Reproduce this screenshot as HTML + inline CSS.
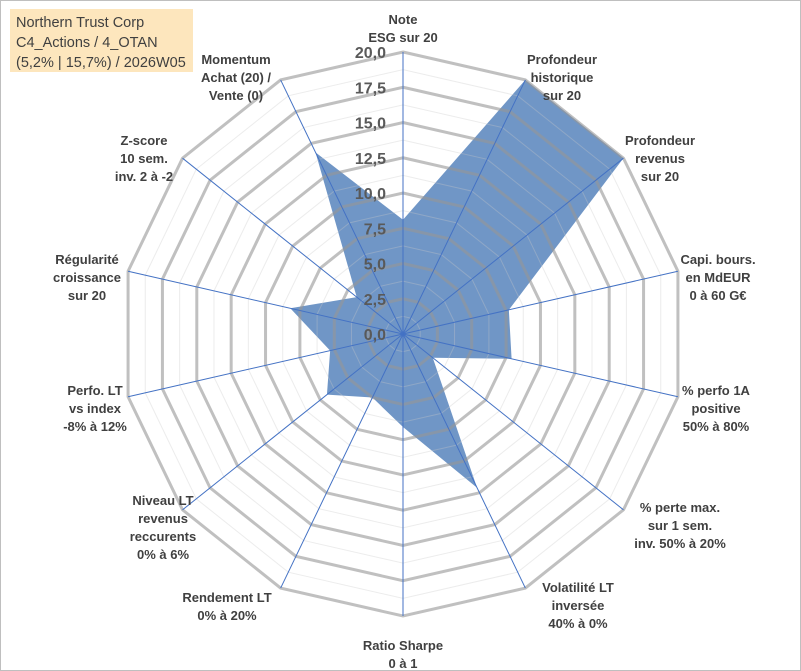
<!DOCTYPE html>
<html><head><meta charset="utf-8"><style>
body{margin:0;background:#fff;}
#wrap{position:relative;width:801px;height:671px;overflow:hidden;font-family:"Liberation Sans",sans-serif;}
svg{position:absolute;left:0;top:0;}
</style></head><body>
<div id="wrap">
<svg id="chart" width="801" height="671"></svg>
</div>
<script>
const categories=[["Note","ESG sur 20"],["Profondeur","historique","sur 20"],["Profondeur","revenus","sur 20"],["Capi. bours.","en MdEUR","0 à 60 G€"],["% perfo 1A","positive","50% à 80%"],["% perte max.","sur 1 sem.","inv. 50% à 20%"],["Volatilité LT","inversée","40% à 0%"],["Ratio Sharpe","0 à 1"],["Rendement LT","0% à 20%"],["Niveau LT","revenus","reccurents","0% à 6%"],["Perfo. LT","vs index","-8% à 12%"],["Régularité","croissance","sur 20"],["Z-score","10 sem.","inv. 2 à -2"],["Momentum","Achat (20) /","Vente (0)"]];
const values=[8.1,20,20,7.7,7.9,2.7,12.1,6.6,5.0,6.9,5.3,8.2,4.2,14.3];
const ticks=["0,0","2,5","5,0","7,5","10,0","12,5","15,0","17,5","20,0"];
const tickValues=[0,2.5,5,7.5,10,12.5,15,17.5,20];
const labelPos=[[403,12],[562,52],[660,133],[718,252],[716,383],[680,500],[578,580],[403,638],[227,590],[163,493],[95,383],[87,252],[144,133],[236,52]];
const NS="http://www.w3.org/2000/svg";
const svg=document.getElementById('chart');
const cx=403,cy=334,R=282,max=20,n=categories.length;
function ang(i){return i*2*Math.PI/n;}
function pt(i,v){const r=v/max*R;return [cx+r*Math.sin(ang(i)),cy-r*Math.cos(ang(i))];}
function mk(t,a){const e=document.createElementNS(NS,t);for(const k in a)e.setAttribute(k,a[k]);svg.appendChild(e);return e;}
const frame=mk('rect',{x:0.5,y:0.5,width:800,height:670,fill:'#fff',stroke:'#bfbfbf'});


const dp=values.map((v,i)=>pt(i,v).join(','));
const area=mk('polygon',{points:dp.join(' '),fill:'rgb(112,150,198)',stroke:'none'});


for(let v=1.25;v<20;v+=2.5){const p=[];for(let i=0;i<n;i++)p.push(pt(i,v).join(','));
const e=mk('polygon',{points:p.join(' '),fill:'none',stroke:'rgba(200,200,200,0.35)','stroke-width':1});

}
tickValues.forEach(v=>{if(v===0)return;const p=[];for(let i=0;i<n;i++)p.push(pt(i,v).join(','));
const e=mk('polygon',{points:p.join(' '),fill:'none',stroke:'rgba(150,150,150,0.6)','stroke-width':3});

});
for(let i=0;i<n;i++){const q=pt(i,max);const e=mk('line',{x1:cx,y1:cy,x2:q[0],y2:q[1],stroke:'#4472c4','stroke-width':1});

}
tickValues.forEach((v,k)=>{const y=cy-v/max*R;const t=mk('text',{x:386,y:y+6,'text-anchor':'end','font-size':16,'font-weight':'bold',fill:'#595959','font-family':'Liberation Sans, sans-serif'});t.textContent=ticks[k];

});
categories.forEach((lines,i)=>{const [x,y]=labelPos[i];const t=mk('text',{x:x,y:y+12,'text-anchor':'middle','font-size':13,'font-weight':'bold',fill:'#404040','font-family':'Liberation Sans, sans-serif'});


lines.forEach((l,j)=>{const s=document.createElementNS(NS,'tspan');s.setAttribute('x',x);s.setAttribute('dy',j?18:0);s.textContent=l;t.appendChild(s);});});
const box=mk('rect',{x:10,y:9,width:183,height:63,fill:'#fde6bd'});


["Northern Trust Corp","C4_Actions / 4_OTAN","(5,2% | 15,7%) / 2026W05"].forEach((l,j)=>{const t=mk('text',{x:16,y:27+j*20,'font-size':14.5,fill:'#404040','font-family':'Liberation Sans, sans-serif'});t.textContent=l;

});
</script>
</body></html>
